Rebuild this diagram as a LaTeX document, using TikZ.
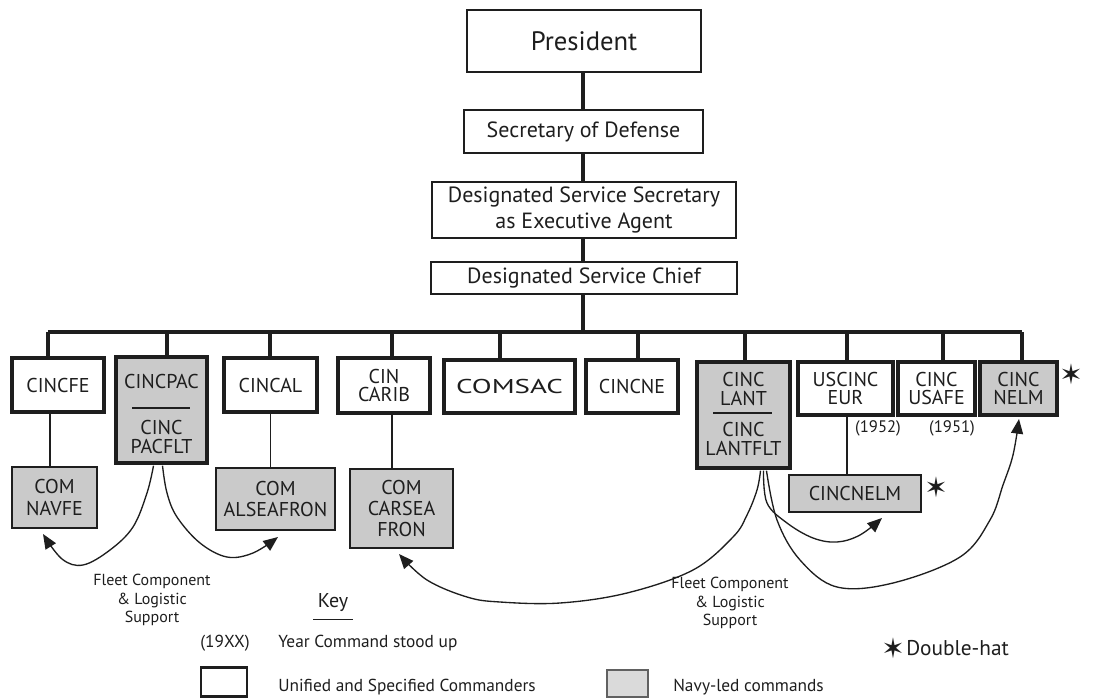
\documentclass[tikz,border=0pt]{standalone}
\usepackage{fontspec}
\setmainfont{PT Sans}
\newfontfamily\symfont{DejaVu Sans}
\usetikzlibrary{arrows.meta,calc}
\definecolor{ink}{HTML}{1E1E1E}
\definecolor{navy}{HTML}{CACACA}
\begin{document}
\begin{tikzpicture}[x=0.75pt,y=-0.75pt,
  every node/.style={text=ink, inner sep=0pt, align=center},
  sz/.style 2 args={minimum width=#1*0.75pt, minimum height=#2*0.75pt},
  topbox/.style={draw=ink, line width=1.9pt, fill=white, font=\fontsize{16.5}{19}\selectfont},
  cmd/.style={draw=ink, line width=2.6pt, fill=white, font=\fontsize{15}{14}\selectfont},
  navybox/.style={cmd, fill=navy},
  subbox/.style={draw=ink, line width=1.6pt, fill=navy, font=\fontsize{15}{16}\selectfont},
  lbl/.style={font=\fontsize{15}{14}\selectfont},
  trunk/.style={draw=ink, line width=2.6pt},
  bus/.style={draw=ink, line width=2.3pt},
  drop/.style={draw=ink, line width=1.3pt},
  support/.style={draw=ink, line width=1pt, -{Triangle[length=11pt,width=9pt]}},
  note/.style={font=\fontsize{12}{14}\selectfont},
  year/.style={font=\fontsize{12.5}{14}\selectfont},
  keytext/.style={font=\fontsize{13}{15}\selectfont, anchor=west},
  star/.style={font=\symfont\fontsize{21}{21}\selectfont}
]
\useasboundingbox (0,0) rectangle (1117,699);

% chain of authority
\node[topbox, sz={234}{62}, font=\fontsize{20}{24}\selectfont] (pres) at (584,41) {President};
\node[topbox, sz={239}{43}] (secdef) at (583.5,131.5) {Secretary of Defense};
\node[topbox, sz={304}{56}] (dss) at (584,210) {Designated Service Secretary\\as Executive Agent};
\node[topbox, sz={306}{32}] (dsc) at (584,278) {Designated Service Chief};
\coordinate (hub) at (583,332);
\draw[trunk] (pres.south -| hub) -- (secdef.north -| hub)
             (secdef.south -| hub) -- (dss.north -| hub)
             (dss.south -| hub) -- (dsc.north -| hub)
             (dsc.south -| hub) -- (hub);

% unified and specified commands
\node[cmd, sz={92}{54}] (cincfe) at (58,385) {CINCFE};
\node[navybox, sz={91}{106}] (cincpac) at (161.5,410) {};
\node[lbl] (pac1) at (161.5,381) {CINCPAC};
\node[lbl] (pac2) at (161.5,437) {CINC\\PACFLT};
\draw[ink, line width=1.4pt] (132,408) -- (190,408);
\node[cmd, sz={93}{54}] (cincal) at (270.5,385) {CINCAL};
\node[cmd, sz={92}{55}] (carib) at (384,385.5) {CIN\\CARIB};
\node[cmd, sz={131}{53}] (comsac) at (509.5,386.5) {\scalebox{1.45}[1]{COMSAC}};
\node[cmd, sz={92}{53}] (cincne) at (632,386.5) {CINCNE};
\node[navybox, sz={93}{106}] (lant) at (743.5,415) {};
\node[lbl] (lant1) at (743.5,389) {CINC\\LANT};
\node[lbl] (lant2) at (743.5,439) {CINC\\LANTFLT};
\draw[ink, line width=1.4pt] (713,413) -- (772,413);
\node[cmd, sz={95}{53}] (eur) at (845.5,388.5) {USCINC\\EUR};
\node[cmd, sz={77}{53}] (usafe) at (936.5,388.5) {CINC\\USAFE};
\node[navybox, sz={77}{53}] (nelm) at (1018.5,388.5) {CINC\\NELM};
\node[star] (starA) at (1071,374) {✶};
\node[year] (y1952) at (878,428) {(1952)};
\node[year] (y1951) at (952,428) {(1951)};

% bus and drops
\coordinate (b1) at (48,332);
\coordinate (b2) at (167,332);
\coordinate (b3) at (270,332);
\coordinate (b4) at (392,332);
\coordinate (b5) at (500,332);
\coordinate (b6) at (638,332);
\coordinate (b7) at (745,332);
\coordinate (b8) at (847,332);
\coordinate (b9) at (943,332);
\coordinate (b10) at (1022,332);
\draw[bus] (b1) -- (b10);
\draw[bus] (b1) -- (b1 |- cincfe.north)
           (b2) -- (b2 |- cincpac.north)
           (b3) -- (b3 |- cincal.north)
           (b4) -- (b4 |- carib.north)
           (b5) -- (b5 |- comsac.north)
           (b6) -- (b6 |- cincne.north)
           (b7) -- (b7 |- lant.north)
           (b8) -- (b8 |- eur.north)
           (b9) -- (b9 |- usafe.north)
           (b10) -- (b10 |- nelm.north);

% naval subordinate commands
\node[subbox, sz={85}{61}] (navfe) at (54.5,497.5) {COM\\NAVFE};
\node[subbox, sz={119}{62}] (alsea) at (275.5,499) {COM\\ALSEAFRON};
\node[subbox, sz={103}{79}] (carsea) at (401.5,508.5) {COM\\CARSEA\\FRON};
\node[subbox, sz={132}{37}] (cincnelm) at (855,493.5) {CINCNELM};
\node[star] (starB) at (936,487) {✶};

\draw[drop] (cincfe.south -| 50,0) -- (navfe.north -| 50,0);
\draw[drop] (cincal.south) -- (cincal.south |- alsea.north);
\draw[drop] (carib.south -| b4) -- (carsea.north -| b4);
\draw[drop] (eur.south -| b8) -- (cincnelm.north -| b8);

% fleet component and logistic support
\coordinate (tipNavfe) at (43,534);
\coordinate (tipAlsea) at (278,537);
\coordinate (tipCarsea) at (399,554);
\coordinate (tipCincnelm) at (882,518);
\coordinate (tipNelm) at (1019,419);
\draw[support] plot[smooth, tension=0.6] coordinates {($(cincpac.south)+(-8,1)$) (147,493) (133,527) (110,550) (83,565) (62,559) (tipNavfe)};
\draw[support] plot[smooth, tension=0.6] coordinates {($(cincpac.south)+(1,1)$) (167,493) (177,517) (200,543) (227,557) (253,553) (tipAlsea)};
\draw[support] plot[smooth, tension=0.6] coordinates {($(lant.south)+(17,1)$) (757,490) (747,515) (733,537) (693,570) (627,593) (560,603) (500,602) (467,597) (427,580) (tipCarsea)};
\draw[support] plot[smooth, tension=0.6] coordinates {($(lant.south)+(20,1)$) (767,503) (787,523) (813,538) (837,542) (860,535) (tipCincnelm)};
\draw[support] plot[smooth, tension=0.6] coordinates {($(lant.south)+(23,1)$) (777,520) (800,560) (837,587) (893,583) (960,557) (990,520) (1003,485) (1013,455) (tipNelm)};
\node[note] (fleetA) at (152,600) {Fleet Component\\\& Logistic\\Support};
\node[note] (fleetB) at (730,603) {Fleet Component\\\& Logistic\\Support};

% key
\node[font=\fontsize{15}{15}\selectfont] (key) at (333,603) {Key};
\draw[ink, line width=1pt] ($(key.south)+(-20,7)$) -- ($(key.south)+(20,7)$);
\node[keytext, anchor=center] (yrs) at (225,643) {(19XX)};
\node[keytext] (yrstext) at (278,643) {Year Command stood up};
\node[draw=ink, line width=2.2pt, fill=white, sz={46}{29}] (keyU) at (224,682) {};
\node[keytext] (keyUtext) at (278,687) {Unified and Specified Commanders};
\node[draw=ink!70, line width=0.9pt, fill=navy!70, sz={41}{27}] (keyN) at (627.5,683.5) {};
\node[keytext] (keyNtext) at (673,687) {Navy-led commands};
\node[star] (starC) at (893,648) {✶};
\node[font=\fontsize{16}{16}\selectfont, anchor=west] (dbl) at (906,648) {Double-hat};
\end{tikzpicture}
\end{document}
